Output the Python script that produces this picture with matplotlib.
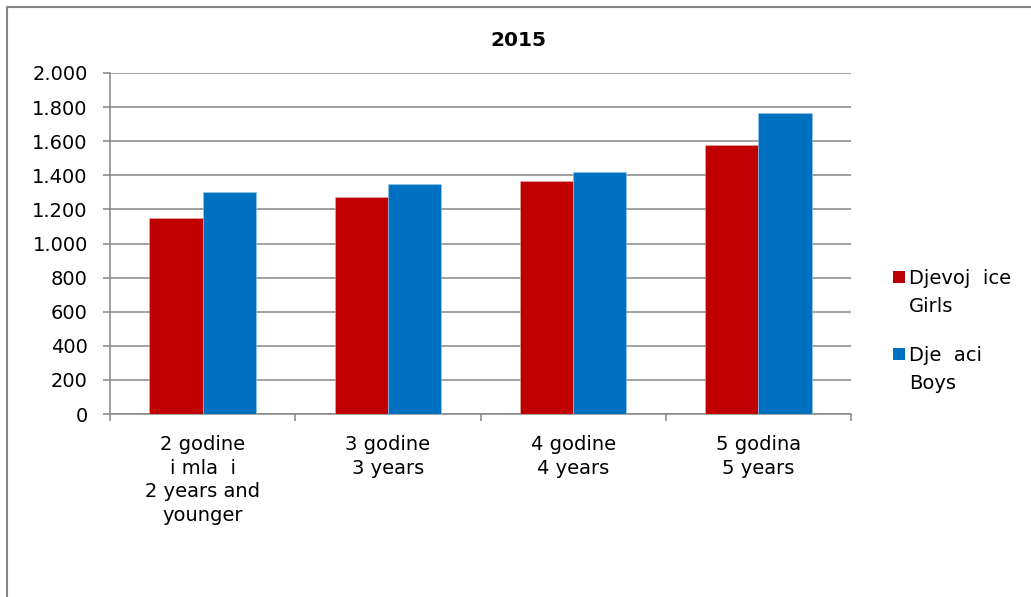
import matplotlib
matplotlib.use("Agg")
import matplotlib.pyplot as plt
from matplotlib.lines import Line2D
from matplotlib.patches import Rectangle
from matplotlib.ticker import FuncFormatter
import numpy as np

# reference glyphs are wide, DejaVu is closer than Arial metrics
plt.rcParams["font.family"] = ["DejaVu Sans"]

categories = ["2 godine\ni mla  i\n2 years and\nyounger", "3 godine\n3 years",
              "4 godine\n4 years", "5 godina\n5 years"]
girls = [1150, 1275, 1365, 1575]
boys = [1300, 1348, 1422, 1768]
series_labels = [["Djevoj  ice", "Girls"], ["Dje  aci", "Boys"]]
colors = ["#C00000", "#0070C0"]
title = "2015"

grid_col = "#868686"
W, H = 1031, 597

fig = plt.figure(figsize=(W / 100, H / 100), dpi=100)
ax = fig.add_axes([110 / W, 1 - 414 / H, 741 / W, 341 / H])

x = np.arange(len(categories))
w = 0.287
ax.bar(x - w / 2, girls, w, color=colors[0], edgecolor="#e8b0b0", linewidth=0.4, zorder=3)
ax.bar(x + w / 2, boys, w, color=colors[1], edgecolor="#9cc8ea", linewidth=0.4, zorder=3)

ax.set_xlim(-0.5, len(categories) - 0.5)
ax.set_ylim(0, 2000)
ax.set_yticks(np.arange(0, 2001, 200))
ax.yaxis.set_major_formatter(FuncFormatter(lambda v, p: f"{int(v):,}".replace(",", ".")))
ax.grid(axis="y", color=grid_col, linewidth=1.1, zorder=0)
ax.set_axisbelow(True)

ax.set_xticks(x)
ax.set_xticklabels(categories, fontsize=14, linespacing=1.32)
ax.set_xticks(np.arange(-0.5, len(categories)), minor=True)
ax.tick_params(axis="x", which="major", length=0, pad=15)
ax.tick_params(axis="x", which="minor", length=5, color=grid_col, width=1.1)
ax.tick_params(axis="y", length=5, color=grid_col, width=1.1, labelsize=14, pad=11)

for side in ("top", "right"):
    ax.spines[side].set_visible(False)
for side in ("left", "bottom"):
    ax.spines[side].set_color(grid_col)
    ax.spines[side].set_linewidth(1.1)

fig.text(518 / W, 1 - 40 / H, title, ha="center", va="center",
         fontsize=14.5, fontweight="bold")

# legend: square beside first line, second line below
legend_tops = [271, 348]
for col, lines, top in zip(colors, series_labels, legend_tops):
    fig.add_artist(Rectangle((893 / W, 1 - (top + 12) / H), 12 / W, 12 / H,
                             transform=fig.transFigure, facecolor=col, edgecolor="none"))
    for i, line in enumerate(lines):
        fig.text(909 / W, 1 - (top + 13 + 28 * i) / H, line, ha="left",
                 va="baseline", fontsize=14)

# outer chart border
fig.add_artist(Line2D([7 / W, 7 / W, 1.0], [0.0, 1 - 7 / H, 1 - 7 / H],
                      transform=fig.transFigure, color=grid_col, linewidth=1.5))

fig.savefig("out.png", dpi=100)
